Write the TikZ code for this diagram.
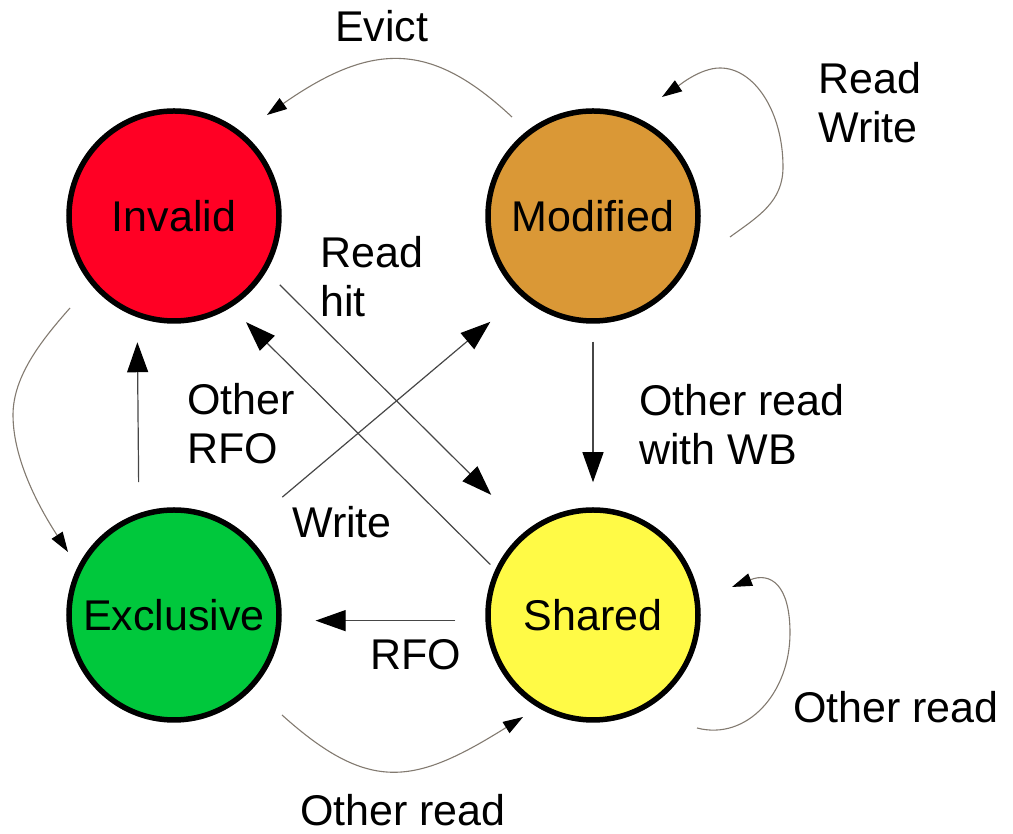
\documentclass[tikz,border=0pt]{standalone}
\usepackage{fontspec}
\setmainfont{Liberation Sans}
\usetikzlibrary{arrows.meta,calc}
\definecolor{cInv}{RGB}{255,0,36}
\definecolor{cMod}{RGB}{218,152,54}
\definecolor{cExc}{RGB}{0,200,60}
\definecolor{cSha}{RGB}{255,250,70}
\definecolor{stgray}{RGB}{70,70,70}
\definecolor{cvgray}{RGB}{130,122,112}
\begin{document}
\begin{tikzpicture}[x=1pt,y=1pt,
  every node/.style={font=\fontsize{43}{49.5}\selectfont},
  state/.style={circle, draw=black, line width=5.5pt, minimum size=210pt, inner sep=0pt},
  lbl/.style={anchor=base west, inner sep=0pt, align=left},
  st/.style={draw=stgray, line width=1.2pt, -{Triangle[length=30pt,width=21pt,color=black]}},
  cv/.style={draw=cvgray, line width=1.1pt, -{Triangle[length=20pt,width=13pt,color=black]}}]
\useasboundingbox (0,0) rectangle (1013,834);

\node[state, fill=cInv] (I) at (174,618) {Invalid};
\node[state, fill=cMod] (M) at (593,618) {Modified};
\node[state, fill=cExc] (E) at (174,219) {Exclusive};
\node[state, fill=cSha] (S) at (593,219) {Shared};

\node[lbl] (tEvict) at (335,792) {Evict};
\node[lbl] (tRW) at (818,691) {Read\\Write};
\node[lbl] (tRH) at (320,517) {Read\\hit};
\node[lbl] (tORFO) at (187,370) {Other\\RFO};
\node[lbl] (tWB) at (639,369) {Other read\\with WB};
\node[lbl] (tW) at (292,296) {Write};
\node[lbl] (tRFO) at (370,164) {RFO};
\node[lbl] (tOR1) at (300,8) {Other read};
\node[lbl] (tOR2) at (793,111) {Other read};

% straight connectors
\draw[st, shorten <=31pt, shorten >=25pt] (E.109.7) -- (I.250.3);
\draw[st, shorten <=18pt, shorten >=25pt] (M.south) -- (S.north);
\draw[st, shorten <=30pt, shorten >=34pt] (S.183.7) -- (E.-3.7);
\draw[st, shorten <=19pt, shorten >=50pt] (I.-31) -- (S.128.6);
\draw[st, shorten <=7pt, shorten >=21pt] (S.155.3) -- (I.302.5);
\draw[st, shorten <=53pt, shorten >=40pt] (E.51.6) -- (M.228);

% curved connectors
\draw[cv] ($(M)+(-81,99)$) .. controls (432.6,791.1) and (374.4,794.2) .. ($(I)+(93,101)$);
\draw[cv] ($(M)+(137,-21)$) .. controls (758.3,617.6) and (783,632) .. (783,667)
  .. controls (783,721.6) and (754.8,766) .. (720,766)
  .. controls (700,766) and (678.6,748.2) .. ($(M)+(69,119)$);
\draw[cv] ($(I)+(-104,-92)$) .. controls (43.6,496) and (13,459) .. (13,419)
  .. controls (13,369) and (46.2,315.5) .. ($(E)+(-106,63)$);
\draw[cv] ($(E)+(108,-100)$) .. controls (369.8,39.9) and (415,49.5) .. ($(S)+(-70,-102)$);
\draw[cv] ($(S)+(104,-113)$) .. controls (747,93) and (790,141) .. (790,201)
  .. controls (790,250) and (770,262) .. ($(S)+(139,28)$);
\end{tikzpicture}
\end{document}
